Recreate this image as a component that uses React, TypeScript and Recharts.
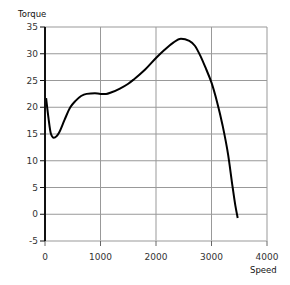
import React from "react";
import { LineChart, Line, XAxis, YAxis, CartesianGrid } from "recharts";

// values
const speed = [20, 60, 108, 157, 210, 250, 350, 456, 550, 650, 750, 900, 1000, 1100, 1200, 1350, 1500, 1600, 1800, 2000, 2150, 2300, 2450, 2600, 2700, 2800, 2900, 3000, 3100, 3200, 3300, 3380, 3430, 3472];
const torque = [21.7, 18.2, 15, 14.3, 14.6, 15.2, 17.6, 20, 21.2, 22.1, 22.5, 22.6, 22.5, 22.5, 22.8, 23.5, 24.4, 25.2, 27, 29.2, 30.7, 32, 32.8, 32.4, 31.5, 29.6, 27.2, 24.6, 21, 16.6, 11.1, 5.1, 1.6, -0.7];
const speedTicks = [0, 1000, 2000, 3000, 4000];
const torqueTicks = [-5, 0, 5, 10, 15, 20, 25, 30, 35];

const data = speed.map((s, i) => ({ speed: s, torque: torque[i] }));

const font = "'DejaVu Sans', Verdana, sans-serif";
const tickStyle = { fontSize: 9, fill: "#333", fontFamily: font };

export default function App() {
  return (
    <div style={{ position: "absolute", left: 0, top: 0, width: 290, height: 285, background: "#fff" }}>
      <div style={{ position: "absolute", left: 18, top: 9, fontSize: 8.5, fontFamily: font, color: "#111" }}>Torque</div>
      <div style={{ position: "absolute", left: 250, top: 265, fontSize: 8.5, fontFamily: font, color: "#111" }}>Speed</div>
      <LineChart width={290} height={285} data={data} margin={{ top: 27, right: 23, bottom: 0, left: 0 }}>
        <CartesianGrid stroke="#999" strokeWidth={1} />
        <XAxis
          dataKey="speed"
          type="number"
          domain={[0, 4000]}
          ticks={speedTicks}
          height={44}
          tick={tickStyle}
          tickSize={5}
          tickMargin={8}
          tickLine={{ stroke: "#666" }}
          axisLine={{ stroke: "#ccc" }}
          interval={0}
        />
        <YAxis
          type="number"
          domain={[-5, 35]}
          ticks={torqueTicks}
          width={45}
          tick={tickStyle}
          tickSize={5}
          tickMargin={2}
          tickLine={{ stroke: "#111" }}
          axisLine={{ stroke: "#111", strokeWidth: 2 }}
          interval={0}
        />
        <Line
          dataKey="torque"
          type="monotone"
          stroke="#000"
          strokeWidth={2}
          dot={false}
          isAnimationActive={false}
        />
      </LineChart>
    </div>
  );
}
